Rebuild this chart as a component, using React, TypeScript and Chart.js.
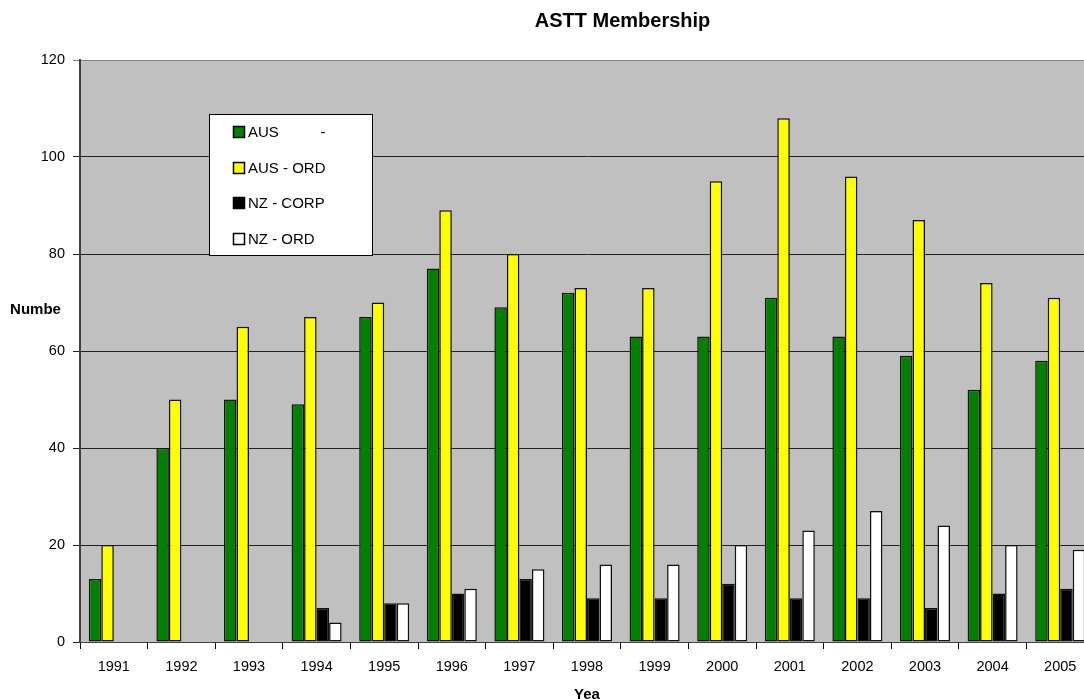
import { useEffect, useRef } from 'react';
import { Chart, registerables } from 'chart.js';
Chart.register(...registerables);

const chartTitle = 'ASTT Membership';
const xTitle = 'Yea';
const yTitle = 'Numbe';
const years = ['1991', '1992', '1993', '1994', '1995', '1996', '1997', '1998', '1999', '2000', '2001', '2002', '2003', '2004', '2005'];
const seriesNames = ['AUS          -', 'AUS - ORD', 'NZ - CORP', 'NZ - ORD'];
const ausCorp = [13, 40, 50, 49, 67, 77, 69, 72, 63, 63, 71, 63, 59, 52, 58];
const ausOrd = [20, 50, 65, 67, 70, 89, 80, 73, 73, 95, 108, 96, 87, 74, 71];
const nzCorp = [null, null, null, 7, 8, 10, 13, 9, 9, 12, 9, 9, 7, 10, 11];
const nzOrd = [null, null, null, 4, 8, 11, 15, 16, 16, 20, 23, 27, 24, 20, 19];
const colors = ['#008000', '#FFFF00', '#000000', '#FFFFFF'];
const yTicks = [0, 20, 40, 60, 80, 100, 120];

const FONT = '"Liberation Sans", Arial, sans-serif';

const bgPlugin = {
  id: 'plotBg',
  beforeDraw(chart: any) {
    const { ctx, chartArea: a } = chart;
    ctx.save();
    ctx.fillStyle = '#C0C0C0';
    ctx.fillRect(a.left, a.top, a.right - a.left, a.bottom - a.top);
    ctx.restore();
  },
};

const textPlugin = {
  id: 'texts',
  afterDraw(chart: any) {
    const { ctx } = chart;
    ctx.save();
    ctx.fillStyle = '#000';
    ctx.textAlign = 'center';
    ctx.textBaseline = 'middle';
    ctx.font = `bold 20px ${FONT}`;
    ctx.fillText(chartTitle, chart.width / 2, 21);
    ctx.font = `bold 15px ${FONT}`;
    ctx.fillText(yTitle, 35.5, 310);
    ctx.restore();
  },
};

const legendPlugin = {
  id: 'boxLegend',
  afterDraw(chart: any) {
    const { ctx, chartArea: a } = chart;
    const left = a.left + 129;
    const top = a.top + 54;
    const w = 163;
    const h = 141;
    ctx.save();
    ctx.fillStyle = '#FFFFFF';
    ctx.fillRect(left, top, w, h);
    ctx.strokeStyle = '#000';
    ctx.lineWidth = 1;
    ctx.strokeRect(left + 0.5, top + 0.5, w, h);
    ctx.font = `15px ${FONT}`;
    ctx.textBaseline = 'middle';
    ctx.textAlign = 'left';
    chart.data.datasets.forEach((ds: any, i: number) => {
      const cy = Math.round(top + 18 + i * 35.5);
      ctx.fillStyle = ds.backgroundColor;
      ctx.fillRect(left + 24, cy - 6, 11, 11);
      ctx.strokeStyle = '#000';
      ctx.lineWidth = 1.5;
      ctx.strokeRect(left + 24.5, cy - 5.5, 11, 11);
      ctx.fillStyle = '#000';
      ctx.fillText(ds.label, left + 39, cy + 1);
    });
    ctx.restore();
  },
};

export default function App() {
  const ref = useRef<HTMLCanvasElement>(null);
  useEffect(() => {
    document.body.style.margin = '0';
    const datasetsData = [ausCorp, ausOrd, nzCorp, nzOrd];
    const chart = new Chart(ref.current as HTMLCanvasElement, {
      type: 'bar',
      data: {
        labels: years,
        datasets: datasetsData.map((d, i) => ({
          label: seriesNames[i],
          data: d as any,
          backgroundColor: colors[i],
          borderColor: '#111111',
          borderWidth: 1.5,
          borderSkipped: false,
          categoryPercentage: 0.74,
          barPercentage: 1,
        })),
      },
      options: {
        animation: false,
        responsive: false,
        layout: { padding: { top: 60, right: 151, left: 0, bottom: 0 } },
        plugins: {
          legend: { display: false },
          title: { display: false },
          tooltip: { enabled: false },
        },
        scales: {
          x: {
            grid: { drawOnChartArea: false, color: '#000', tickLength: 7 },
            border: { color: '#404040', width: 1 },
            ticks: { color: '#000', font: { family: FONT, size: 14.5 }, padding: 9, maxRotation: 0, autoSkip: false },
            title: {
              display: true,
              text: xTitle,
              color: '#000',
              font: { family: FONT, size: 15, weight: 'bold', lineHeight: 1 },
              padding: { top: 0, bottom: -3.5 },
            },
            afterFit: (s: any) => {
              s.height = 57;
            },
          },
          y: {
            min: 0,
            max: 120,
            afterBuildTicks: (s: any) => {
              s.ticks = yTicks.map((v) => ({ value: v }));
            },
            grid: {
              color: (c: any) => (c.tick && c.tick.value === 120 ? '#808080' : '#222222'),
              tickLength: 7,
            },
            border: { color: '#404040', width: 2 },
            ticks: { color: '#000', font: { family: FONT, size: 14.5 }, padding: 8 },
            afterFit: (s: any) => {
              s.width = 80;
            },
          },
        },
      } as any,
      plugins: [bgPlugin, legendPlugin, textPlugin],
    });
    return () => chart.destroy();
  }, []);
  return (
    <div style={{ width: 1084, height: 699, overflow: 'hidden', position: 'relative', background: '#fff' }}>
      <canvas ref={ref} width={1245} height={699} style={{ display: 'block' }} />
    </div>
  );
}
